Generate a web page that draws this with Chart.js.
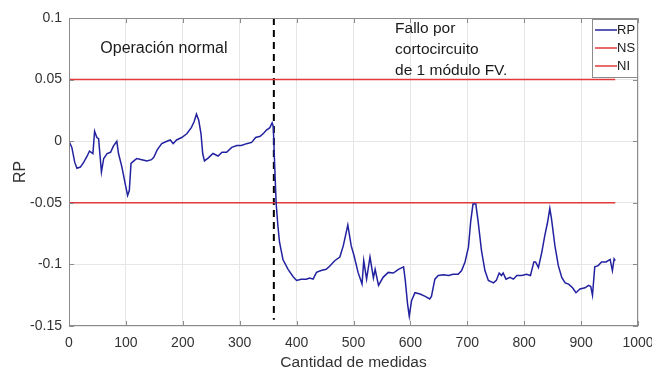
<!DOCTYPE html>
<html>
<head>
<meta charset="utf-8">
<script src="https://cdn.jsdelivr.net/npm/chart.js@4/dist/chart.umd.min.js"></script>
<style>
  html, body { margin: 0; padding: 0; background: #fff; }
  #wrap { width: 652px; height: 372px; }
</style>
</head>
<body>
<div id="wrap"><canvas id="chart"></canvas></div>
<script>
// RP signal (measurement index, value)
const rpX = [0, 5, 10, 14, 20, 26, 32, 36, 42, 45, 49, 52, 57, 61, 67, 73, 78, 84, 87, 93, 99, 103, 106, 109, 114, 119, 128, 137, 145, 149, 155, 163, 172, 178, 183, 189, 198, 207, 215, 220, 224, 228, 232, 235, 238, 245, 253, 262, 269, 277, 286, 295, 303, 312, 321, 328, 336, 342, 347, 353, 357, 359, 361.5, 364, 367, 370, 376, 385, 394, 400, 408, 417, 423, 429, 435, 443, 452, 458, 467, 476, 482, 490, 496, 501, 508, 515, 518, 523, 529, 535, 538, 544, 552, 561, 570, 579, 588, 591, 595, 598, 602, 608, 617, 626, 634, 637, 643, 649, 658, 667, 675, 684, 690, 696, 702, 706, 710, 715, 719, 725, 731, 737, 746, 751, 756, 760, 763, 768, 775, 781, 787, 796, 804, 811, 817, 820, 825, 831, 836, 841, 845, 848, 854, 860, 866, 872, 878, 885, 891, 898, 907, 913, 917, 920, 924, 930, 936, 944, 951, 955, 958, 960];
const rpY = [0, -0.005, -0.017, -0.022, -0.021, -0.017, -0.012, -0.008, -0.010, 0.008, 0.003, 0.002, -0.025, -0.014, -0.010, -0.009, -0.004, 0.000, -0.010, -0.021, -0.035, -0.044, -0.040, -0.018, -0.016, -0.014, -0.015, -0.016, -0.015, -0.013, -0.007, -0.002, 0.000, 0.001, -0.002, 0.001, 0.003, 0.006, 0.011, 0.016, 0.022, 0.017, 0.006, -0.010, -0.016, -0.0135, -0.010, -0.012, -0.009, -0.009, -0.005, -0.0035, -0.0035, -0.002, -0.001, 0.003, 0.004, 0.0065, 0.009, 0.011, 0.015, 0.012, -0.020, -0.050, -0.068, -0.082, -0.096, -0.104, -0.110, -0.113, -0.112, -0.112, -0.111, -0.112, -0.1065, -0.105, -0.104, -0.1015, -0.097, -0.094, -0.085, -0.068, -0.085, -0.093, -0.1065, -0.116, -0.097, -0.112, -0.094, -0.111, -0.104, -0.117, -0.1105, -0.1065, -0.107, -0.104, -0.102, -0.113, -0.132, -0.142, -0.1295, -0.123, -0.124, -0.126, -0.128, -0.126, -0.112, -0.109, -0.1085, -0.109, -0.108, -0.108, -0.105, -0.098, -0.086, -0.065, -0.051, -0.051, -0.065, -0.089, -0.105, -0.113, -0.115, -0.113, -0.107, -0.109, -0.107, -0.112, -0.1105, -0.112, -0.109, -0.109, -0.108, -0.109, -0.098, -0.098, -0.1025, -0.090, -0.077, -0.066, -0.0545, -0.063, -0.085, -0.101, -0.1105, -0.115, -0.116, -0.119, -0.123, -0.120, -0.119, -0.117, -0.118, -0.125, -0.102, -0.101, -0.098, -0.098, -0.096, -0.105, -0.0955, -0.097];

// upper / lower thresholds
const nsX = [0, 960];
const nsY = [0.05, 0.05];
const niX = [0, 960];
const niY = [-0.05, -0.05];

// fault instant marker
const faultX = [360, 360];
const faultY = [0.1, -0.145];

const xTicks = [0, 100, 200, 300, 400, 500, 600, 700, 800, 900, 1000];
const yTickLabels = ['-0.15', '-0.1', '-0.05', '0', '0.05', '0.1'];

const notes = [
  { x: 55, y: 0.0755, lines: ['Operación normal'], size: 16 },
  { x: 573, y: 0.0915, lines: ['Fallo por', 'cortocircuito', 'de 1 módulo FV.'], size: 15.5 }
];

function toPoints(xs, ys) {
  return xs.map((x, i) => ({ x: x, y: ys[i] }));
}

const FONT = '"Liberation Sans", Arial, sans-serif';
const BLUE = '#2222a0';
const RED = '#e23a3a';

// box, inward ticks, text notes and legend, MATLAB style
const decorations = {
  id: 'decorations',
  afterDraw(chart) {
    const ctx = chart.ctx;
    const a = chart.chartArea;
    const xs = chart.scales.x, ys = chart.scales.y;
    ctx.save();
    ctx.strokeStyle = '#8c8c8c';
    ctx.lineWidth = 1;
    ctx.strokeRect(a.left + 0.5, a.top + 0.5, a.right - a.left - 1, a.bottom - a.top - 1);
    ctx.beginPath();
    xs.ticks.forEach(t => {
      const px = Math.round(xs.getPixelForValue(t.value)) + 0.5;
      ctx.moveTo(px, a.bottom); ctx.lineTo(px, a.bottom - 5);
      ctx.moveTo(px, a.top); ctx.lineTo(px, a.top + 5);
    });
    ys.ticks.forEach(t => {
      const py = Math.round(ys.getPixelForValue(t.value)) + 0.5;
      ctx.moveTo(a.left, py); ctx.lineTo(a.left + 5, py);
      ctx.moveTo(a.right, py); ctx.lineTo(a.right - 5, py);
    });
    ctx.stroke();

    // notes
    ctx.fillStyle = '#1a1a1a';
    ctx.textBaseline = 'middle';
    ctx.textAlign = 'left';
    notes.forEach(n => {
      ctx.font = n.size + 'px ' + FONT;
      const px = xs.getPixelForValue(n.x);
      const py = ys.getPixelForValue(n.y);
      n.lines.forEach((s, i) => ctx.fillText(s, px, py + i * 21));
    });

    // legend
    const items = chart.data.datasets.filter(d => d.inLegend);
    const boxW = 46, rowH = 18;
    const bx = a.right - boxW, by = a.top + 1;
    const bh = items.length * rowH + 4;
    ctx.fillStyle = '#fff';
    ctx.fillRect(bx, by, boxW, bh);
    ctx.strokeStyle = '#8c8c8c';
    ctx.strokeRect(bx + 0.5, by + 0.5, boxW - 1, bh);
    ctx.font = '13px ' + FONT;
    items.forEach((d, i) => {
      const cy = by + 11 + i * rowH;
      ctx.strokeStyle = d.borderColor;
      ctx.lineWidth = 1.5;
      ctx.beginPath();
      ctx.moveTo(bx + 3, cy); ctx.lineTo(bx + 25, cy);
      ctx.stroke();
      ctx.fillStyle = '#1a1a1a';
      ctx.fillText(d.label, bx + 25, cy);
    });
    ctx.restore();
  }
};

const chart = new Chart(document.getElementById('chart'), {
  type: 'line',
  data: {
    datasets: [
      { label: 'RP', data: toPoints(rpX, rpY), borderColor: BLUE, borderWidth: 1.5, inLegend: true },
      { label: 'NS', data: toPoints(nsX, nsY), borderColor: RED, borderWidth: 1.5, inLegend: true },
      { label: 'NI', data: toPoints(niX, niY), borderColor: RED, borderWidth: 1.5, inLegend: true },
      { label: 'fallo', data: toPoints(faultX, faultY), borderColor: '#000', borderWidth: 2, borderDash: [7, 5] }
    ]
  },
  options: {
    responsive: true,
    maintainAspectRatio: false,
    animation: false,
    parsing: false,
    elements: { point: { radius: 0 }, line: { tension: 0, fill: false } },
    layout: { padding: { left: 0, top: 18, right: 14, bottom: 0 } },
    plugins: { legend: { display: false }, tooltip: { enabled: false } },
    scales: {
      x: {
        type: 'linear',
        min: 0, max: 1000,
        afterFit: s => { s.height = 46; s.paddingLeft = 0; s.paddingRight = 0; },
        afterBuildTicks: s => { s.ticks = xTicks.map(v => ({ value: v })); },
        grid: { color: '#e6e6e6', drawTicks: false },
        border: { display: false },
        ticks: {
          padding: 9, maxRotation: 0, color: '#333', font: { size: 14, family: FONT },
          callback: v => String(v)
        },
        title: { display: true, text: 'Cantidad de medidas', color: '#333', padding: { top: 0, bottom: 0 }, font: { size: 15.5, family: FONT } }
      },
      y: {
        min: -0.15, max: 0.1,
        afterFit: s => { s.width = 69; s.paddingTop = 0; s.paddingBottom = 0; },
        afterBuildTicks: s => { s.ticks = yTickLabels.map(v => ({ value: parseFloat(v) })); },
        grid: { color: '#e6e6e6', drawTicks: false },
        border: { display: false },
        ticks: {
          padding: 7, color: '#333', font: { size: 14, family: FONT },
          callback: (v, i) => yTickLabels[i]
        },
        title: { display: true, text: 'RP', color: '#333', padding: { top: 11, bottom: 0 }, font: { size: 16, family: FONT } }
      }
    }
  },
  plugins: [decorations]
});
</script>
</body>
</html>
